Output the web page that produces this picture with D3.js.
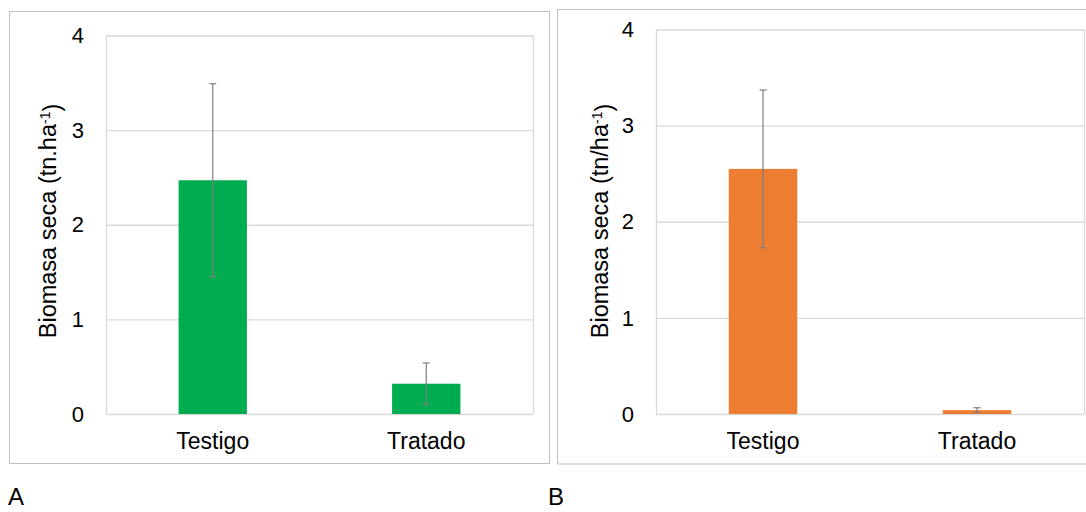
<!DOCTYPE html>
<meta charset="utf-8">
<style>
  body { margin: 0; background: #fff; }
  text { font-family: "Liberation Sans", Arial, sans-serif; fill: #000; }
</style>
<body>
<script src="https://d3js.org/d3.v7.min.js"></script>
<script>

  // data
  const categories = ["Testigo", "Tratado"];
  const yTicks = [0, 1, 2, 3, 4];
  const biomasaA = [2.47, 0.32];
  const errorA = [1.02, 0.22];
  const biomasaB = [2.55, 0.04];
  const errorB = [0.82, 0.025];

  const svg = d3.select("body").append("svg")
      .attr("width", 1086)
      .attr("height", 512);

  // one chart panel: outer frame, plot area, bars, error bars, labels
  function drawPanel(p) {
    const g = svg.append("g");

    g.append("rect")
      .attr("x", p.frame[0]).attr("y", p.frame[1])
      .attr("width", p.frame[2]).attr("height", p.frame[3])
      .attr("fill", "none").attr("stroke", "#bfbfbf");

    const x = d3.scaleBand()
        .domain(categories)
        .range([p.left, p.right])
        .paddingInner(0.68)
        .paddingOuter(0.34);

    const y = d3.scaleLinear()
        .domain([0, 4])
        .range([414, p.top]);

    // gridlines
    g.selectAll(".grid")
      .data(yTicks)
      .join("line")
      .attr("x1", p.left).attr("x2", p.right)
      .attr("y1", d => y(d) + 0.5).attr("y2", d => y(d) + 0.5)
      .attr("stroke", "#d9d9d9").attr("stroke-width", 1.3);

    // plot area sides
    g.selectAll(".side")
      .data([p.left, p.right])
      .join("line")
      .attr("x1", d => d + 0.5).attr("x2", d => d + 0.5)
      .attr("y1", y(4)).attr("y2", y(0))
      .attr("stroke", "#d9d9d9").attr("stroke-width", 1.3);

    // tick labels
    g.selectAll(".ytick")
      .data(yTicks)
      .join("text")
      .attr("x", p.left - 22)
      .attr("y", d => y(d))
      .attr("dy", "0.35em")
      .attr("text-anchor", "end")
      .style("font-size", "22px")
      .text(d => d);

    // bars
    g.selectAll(".bar")
      .data(p.values)
      .join("rect")
      .attr("x", (d, i) => x(categories[i]))
      .attr("y", d => y(d))
      .attr("width", x.bandwidth())
      .attr("height", d => y(0) - y(d))
      .attr("fill", p.color);

    // error bars
    const eb = g.selectAll(".err")
      .data(p.values)
      .join("g")
      .attr("stroke", "#7f7f7f")
      .attr("stroke-width", 1.2);
    const cx = i => x(categories[i]) + x.bandwidth() / 2;
    eb.append("line")
      .attr("x1", (d, i) => cx(i)).attr("x2", (d, i) => cx(i))
      .attr("y1", (d, i) => y(d + p.errors[i]))
      .attr("y2", (d, i) => y(d - p.errors[i]));
    eb.append("line")
      .attr("x1", (d, i) => cx(i) - 3.5).attr("x2", (d, i) => cx(i) + 3.5)
      .attr("y1", (d, i) => y(d + p.errors[i]))
      .attr("y2", (d, i) => y(d + p.errors[i]));
    eb.append("line")
      .attr("x1", (d, i) => cx(i) - 3.5).attr("x2", (d, i) => cx(i) + 3.5)
      .attr("y1", (d, i) => y(d - p.errors[i]))
      .attr("y2", (d, i) => y(d - p.errors[i]));

    // category labels
    g.selectAll(".xlab")
      .data(categories)
      .join("text")
      .attr("x", d => x(d) + x.bandwidth() / 2)
      .attr("y", 449)
      .attr("text-anchor", "middle")
      .style("font-size", "23px")
      .text(d => d);

    // y axis title
    const t = g.append("text")
      .attr("transform", "translate(" + p.titleX + ",221) rotate(-90)")
      .attr("text-anchor", "middle")
      .style("font-size", "23.5px");
    t.append("tspan").text(p.title);
    t.append("tspan").attr("dy", "-0.45em").style("font-size", "14px").text("-1");
    t.append("tspan").attr("dy", "0.45em").text(")");

    // panel letter
    g.append("text")
      .attr("x", p.letterX)
      .attr("y", 505)
      .style("font-size", "24px")
      .text(p.letter);
  }

  drawPanel({
    frame: [9.5, 11.5, 540, 452],
    left: 106, right: 533, top: 35.5,
    values: biomasaA, errors: errorA,
    color: "#00ac50",
    title: "Biomasa seca (tn.ha",
    titleX: 56,
    letter: "A", letterX: 8
  });

  drawPanel({
    frame: [557.5, 9.5, 540, 454.5],
    left: 656, right: 1084, top: 29.5,
    values: biomasaB, errors: errorB,
    color: "#ed7d31",
    title: "Biomasa seca (tn/ha",
    titleX: 608,
    letter: "B", letterX: 548
  });

</script>
</body>
